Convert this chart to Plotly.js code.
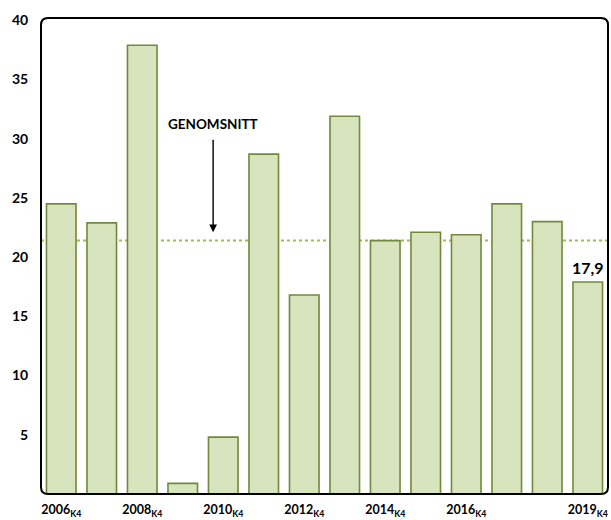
<!DOCTYPE html>
<html>
<head>
<meta charset="utf-8">
<script src="https://cdn.plot.ly/plotly-3.0.1.min.js"></script>
<style>html,body{margin:0;padding:0;background:#fff;}#chart{width:611px;height:520px;}</style>
</head>
<body>
<div id="chart"></div>
<script>
// ---- data ----
const categories = ['2006','2007','2008','2009','2010','2011','2012','2013','2014','2015','2016','2017','2018','2019'];
const values = [24.5, 22.9, 37.9, 0.9, 4.8, 28.7, 16.8, 31.9, 21.4, 22.1, 21.9, 24.5, 23.0, 17.9];
const tickCategories = ['2006','2008','2010','2012','2014','2016','2019'];
const tickLabels = ['2006<sub>K4</sub>','2008<sub>K4</sub>','2010<sub>K4</sub>','2012<sub>K4</sub>','2014<sub>K4</sub>','2016<sub>K4</sub>','2019<sub>K4</sub>'];
const yTicks = [5, 10, 15, 20, 25, 30, 35, 40];
const yTickLabels = ['5', '10', '15', '20', '25', '30', '35', '40'];
const average = 21.4;
const averageLabel = 'GENOMSNITT';
const lastValueLabel = '17,9';

const FONT = 'Lato, "Open Sans", sans-serif';
const lastIndex = categories.length - 1;
const rx = 7 / 567, ry = 7 / 476;
const roundedRect = `M ${rx},0 L ${1-rx},0 Q 1,0 1,${ry} L 1,${1-ry} Q 1,1 ${1-rx},1 L ${rx},1 Q 0,1 0,${1-ry} L 0,${ry} Q 0,0 ${rx},0 Z`;

const trace = {
  type: 'bar',
  x: categories,
  y: values,
  marker: { color: '#d7e4bd', line: { color: '#71893c', width: 1.6 } },
  hoverinfo: 'x+y'
};

const layout = {
  width: 611, height: 520,
  margin: { l: 41, r: 3, t: 18, b: 26, pad: 0 },
  paper_bgcolor: '#ffffff', plot_bgcolor: '#ffffff',
  font: { family: FONT, color: '#000000' },
  showlegend: false,
  bargap: 0.27,
  xaxis: {
    type: 'category',
    range: [-0.5, categories.length - 0.5],
    tickvals: tickCategories,
    ticktext: tickLabels.map(t => '<b>' + t + '</b>'),
    tickfont: { size: 12.5, family: FONT, color: '#000', weight: 700 },
    ticks: 'outside', ticklen: 4, tickcolor: 'rgba(0,0,0,0)',
    showgrid: false, showline: false, zeroline: false, fixedrange: true
  },
  yaxis: {
    range: [0, 40.2],
    tickvals: yTicks,
    ticktext: yTickLabels.map(t => '<b>' + t + '</b>'),
    tickfont: { size: 14, family: FONT, color: '#000', weight: 700 },
    ticks: 'outside', ticklen: 9, tickcolor: 'rgba(0,0,0,0)',
    showgrid: false, showline: false, zeroline: false, fixedrange: true
  },
  shapes: [
    { type: 'line', layer: 'below', xref: 'paper', x0: 0, x1: 1, yref: 'y', y0: average, y1: average,
      line: { color: '#9bbb59', width: 2, dash: 'dot' } },
    { type: 'path', layer: 'above', xref: 'paper', yref: 'paper', path: roundedRect,
      line: { color: '#000000', width: 2 }, fillcolor: 'rgba(0,0,0,0)' }
  ],
  annotations: [
    { xref: 'x', yref: 'y', x: 3.75, y: 31.25, text: '<b>' + averageLabel + '</b>', showarrow: false,
      font: { size: 13.5, family: FONT, color: '#000' }, xanchor: 'center', yanchor: 'middle' },
    { xref: 'x', yref: 'y', x: 3.75, y: 22.1, text: '', showarrow: true, ax: 0, ay: -94,
      arrowhead: 2, arrowsize: 1.1, arrowwidth: 1.4, arrowcolor: '#000', standoff: 0 },
    { xref: 'x', yref: 'y', x: lastIndex, y: values[lastIndex], text: '<b>' + lastValueLabel + '</b>',
      showarrow: false, yanchor: 'bottom', xanchor: 'center', yshift: 3,
      font: { size: 16, family: FONT, color: '#000' } }
  ]
};

Plotly.newPlot('chart', [trace], layout, { displayModeBar: false, staticPlot: true });
</script>
</body>
</html>
